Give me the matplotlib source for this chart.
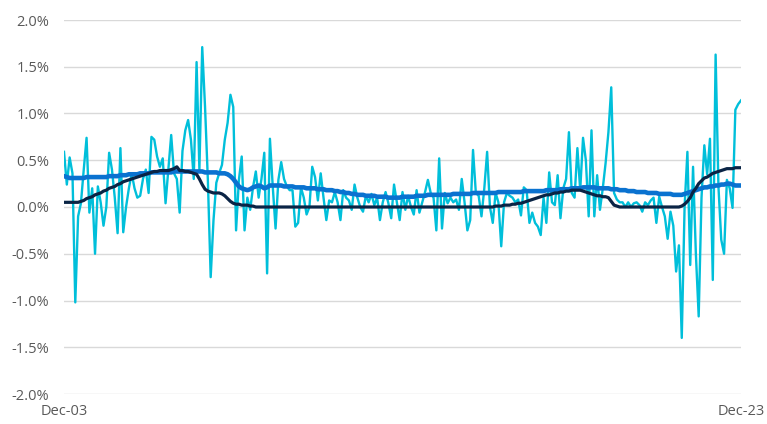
import matplotlib
matplotlib.use("Agg")
import matplotlib.pyplot as plt
import numpy as np

# monthly series, Dec-03 .. Dec-23 (values in %)
monthly = [
    0.59, 0.24, 0.53, 0.36, -1.02, -0.10, 0.04, 0.40, 0.74, -0.06, 0.20, -0.50,
    0.22, 0.05, -0.20, 0.00, 0.58, 0.40, 0.10, -0.28, 0.63, -0.27, 0.00, 0.20,
    0.36, 0.20, 0.10, 0.12, 0.30, 0.40, 0.15, 0.75, 0.72, 0.54, 0.43, 0.52,
    0.04, 0.40, 0.77, 0.36, 0.30, -0.06, 0.60, 0.82, 0.93, 0.72, 0.30, 1.55,
    0.40, 1.71, 1.07, 0.29, -0.75, -0.14, 0.26, 0.36, 0.45, 0.72, 0.90, 1.20,
    1.07, -0.25, 0.29, 0.54, -0.25, 0.10, -0.03, 0.21, 0.38, 0.10, 0.30, 0.58,
    -0.71, 0.73, 0.22, -0.23, 0.29, 0.48, 0.30, 0.22, 0.18, 0.18, -0.21, -0.17,
    0.21, 0.10, -0.08, 0.00, 0.43, 0.32, 0.07, 0.36, 0.10, -0.14, 0.07, 0.05,
    0.16, 0.05, -0.14, 0.18, 0.10, 0.07, -0.03, 0.24, 0.10, 0.00, -0.05, 0.12,
    0.05, 0.14, 0.02, 0.10, -0.14, 0.05, 0.16, 0.04, -0.12, 0.24, 0.05, -0.14,
    0.16, -0.03, 0.12, 0.00, -0.08, 0.18, -0.06, 0.05, 0.16, 0.29, 0.15, 0.10,
    -0.25, 0.52, -0.23, 0.15, 0.04, 0.10, 0.05, 0.08, -0.03, 0.30, 0.05, -0.25,
    -0.14, 0.61, 0.15, 0.12, -0.10, 0.20, 0.59, 0.00, -0.17, 0.15, 0.05, -0.42,
    0.05, 0.15, 0.12, 0.10, 0.05, 0.08, -0.09, 0.21, 0.18, -0.17, -0.06, -0.17,
    -0.21, -0.30, 0.10, -0.17, 0.37, 0.05, 0.02, 0.34, -0.12, 0.20, 0.30, 0.80,
    0.15, 0.10, 0.63, 0.18, 0.74, 0.50, -0.10, 0.82, -0.10, 0.34, -0.03, 0.20,
    0.47, 0.80, 1.28, 0.15, 0.08, 0.05, 0.05, 0.00, 0.05, 0.00, 0.04, 0.05,
    0.02, -0.05, 0.05, 0.02, 0.07, 0.10, -0.17, 0.11, 0.00, -0.10, -0.34, -0.05,
    -0.20, -0.69, -0.41, -1.40, 0.00, 0.59, -0.62, 0.43, -0.50, -1.17, 0.10, 0.66,
    0.35, 0.73, -0.78, 1.63, 0.22, -0.35, -0.50, 0.29, 0.20, -0.01, 1.04, 1.10,
    1.14,
]

smooth = [
    0.05, 0.05, 0.05, 0.05, 0.05, 0.05, 0.06, 0.07, 0.09, 0.10, 0.11, 0.13,
    0.14, 0.15, 0.17, 0.18, 0.20, 0.21, 0.22, 0.24, 0.25, 0.27, 0.28, 0.29,
    0.30, 0.31, 0.32, 0.33, 0.34, 0.35, 0.36, 0.37, 0.38, 0.38, 0.39, 0.39,
    0.39, 0.39, 0.40, 0.41, 0.43, 0.39, 0.39, 0.38, 0.38, 0.37, 0.36, 0.35,
    0.30, 0.24, 0.19, 0.17, 0.16, 0.15, 0.15, 0.15, 0.14, 0.12, 0.09, 0.06,
    0.04, 0.03, 0.03, 0.02, 0.02, 0.02, 0.01, 0.01, 0.00, 0.00, 0.00, 0.00,
    0.00, 0.00, 0.00, 0.00, 0.00, 0.00, 0.00, 0.00, 0.00, 0.00, 0.00, 0.00,
    0.00, 0.00, 0.00, 0.00, 0.00, 0.00, 0.00, 0.00, 0.00, 0.00, 0.00, 0.00,
    0.00, 0.00, 0.00, 0.00, 0.00, 0.00, 0.00, 0.00, 0.00, 0.00, 0.00, 0.00,
    0.00, 0.00, 0.00, 0.00, 0.00, 0.00, 0.00, 0.00, 0.00, 0.00, 0.00, 0.00,
    0.00, 0.00, 0.00, 0.00, 0.00, 0.00, 0.00, 0.00, 0.00, 0.00, 0.00, 0.00,
    0.00, 0.00, 0.00, 0.00, 0.00, 0.00, 0.00, 0.00, 0.00, 0.00, 0.00, 0.00,
    0.00, 0.00, 0.00, 0.00, 0.00, 0.00, 0.00, 0.00, 0.00, 0.01, 0.01, 0.01,
    0.02, 0.02, 0.02, 0.03, 0.03, 0.04, 0.04, 0.05, 0.06, 0.07, 0.08, 0.09,
    0.10, 0.11, 0.12, 0.13, 0.13, 0.14, 0.15, 0.15, 0.16, 0.16, 0.17, 0.17,
    0.18, 0.18, 0.18, 0.18, 0.17, 0.16, 0.15, 0.14, 0.13, 0.12, 0.12, 0.11,
    0.11, 0.10, 0.06, 0.02, 0.01, 0.00, 0.00, 0.00, 0.00, 0.00, 0.00, 0.00,
    0.00, 0.00, 0.00, 0.00, 0.00, 0.00, 0.00, 0.00, 0.00, 0.00, 0.00, 0.00,
    0.00, 0.00, 0.00, 0.01, 0.03, 0.06, 0.10, 0.16, 0.20, 0.25, 0.28, 0.31,
    0.32, 0.34, 0.36, 0.37, 0.38, 0.39, 0.40, 0.41, 0.41, 0.41, 0.42, 0.42,
    0.42,
]

average = [
    0.33, 0.32, 0.31, 0.31, 0.31, 0.31, 0.31, 0.31, 0.32, 0.32, 0.32, 0.32,
    0.32, 0.32, 0.32, 0.32, 0.33, 0.33, 0.33, 0.33, 0.34, 0.34, 0.34, 0.35,
    0.35, 0.35, 0.35, 0.36, 0.36, 0.36, 0.36, 0.37, 0.37, 0.37, 0.37, 0.37,
    0.37, 0.37, 0.37, 0.38, 0.38, 0.38, 0.38, 0.38, 0.38, 0.38, 0.38, 0.38,
    0.38, 0.38, 0.37, 0.37, 0.37, 0.37, 0.37, 0.36, 0.36, 0.36, 0.35, 0.33,
    0.30, 0.26, 0.22, 0.20, 0.19, 0.18, 0.19, 0.21, 0.22, 0.23, 0.22, 0.20,
    0.21, 0.23, 0.23, 0.23, 0.23, 0.23, 0.22, 0.22, 0.22, 0.22, 0.21, 0.21,
    0.21, 0.21, 0.20, 0.20, 0.20, 0.20, 0.19, 0.19, 0.19, 0.18, 0.18, 0.18,
    0.17, 0.17, 0.16, 0.16, 0.15, 0.15, 0.14, 0.14, 0.13, 0.13, 0.13, 0.12,
    0.12, 0.12, 0.12, 0.11, 0.11, 0.11, 0.11, 0.10, 0.10, 0.10, 0.10, 0.10,
    0.11, 0.11, 0.11, 0.11, 0.11, 0.12, 0.12, 0.12, 0.12, 0.13, 0.13, 0.13,
    0.13, 0.13, 0.13, 0.13, 0.13, 0.13, 0.14, 0.14, 0.14, 0.14, 0.14, 0.14,
    0.14, 0.15, 0.15, 0.15, 0.15, 0.15, 0.15, 0.15, 0.15, 0.15, 0.16, 0.16,
    0.16, 0.16, 0.16, 0.16, 0.16, 0.16, 0.16, 0.17, 0.17, 0.17, 0.17, 0.17,
    0.17, 0.17, 0.17, 0.18, 0.18, 0.18, 0.18, 0.18, 0.19, 0.19, 0.19, 0.19,
    0.20, 0.20, 0.20, 0.20, 0.21, 0.21, 0.21, 0.21, 0.21, 0.20, 0.20, 0.20,
    0.20, 0.20, 0.19, 0.19, 0.19, 0.18, 0.18, 0.18, 0.17, 0.17, 0.17, 0.16,
    0.16, 0.16, 0.16, 0.15, 0.15, 0.15, 0.15, 0.14, 0.14, 0.14, 0.14, 0.14,
    0.13, 0.13, 0.13, 0.13, 0.14, 0.15, 0.16, 0.17, 0.18, 0.19, 0.20, 0.21,
    0.21, 0.22, 0.22, 0.23, 0.23, 0.24, 0.24, 0.25, 0.25, 0.24, 0.23, 0.23,
    0.23,
]

x_labels = ["Dec-03", "Dec-23"]
y_ticks = [-2.0, -1.5, -1.0, -0.5, 0.0, 0.5, 1.0, 1.5, 2.0]

plt.rcParams['font.family'] = ['Open Sans', 'DejaVu Sans']

fig = plt.figure(figsize=(7.67, 4.24), dpi=100)
ax = fig.add_axes([64 / 767, 1 - 394 / 424, (741 - 64) / 767, 374 / 424])

t = np.arange(len(monthly))
ax.plot(t, monthly, color='#00BFDA', linewidth=1.7, zorder=2)
ax.plot(t, average, color='#0A72D0', linewidth=3.3, zorder=3)
ax.plot(t, smooth, color='#0A2445', linewidth=2.3, zorder=4)

ax.set_xlim(0, len(monthly) - 1)
ax.set_ylim(-2.0, 2.0)
ax.set_yticks(y_ticks)
ax.set_yticklabels([f"{v:.1f}%" for v in y_ticks])
ax.set_xticks([0, len(monthly) - 1])
ax.set_xticklabels(x_labels)

ax.grid(axis='y', color='#D9D9D9', linewidth=1.0, zorder=0)
ax.set_axisbelow(True)
for s in ax.spines.values():
    s.set_visible(False)
ax.tick_params(axis='both', length=0, labelsize=10.5, labelcolor='#595959')
ax.tick_params(axis='y', pad=10.5)
ax.tick_params(axis='x', pad=7.5)

fig.savefig("out.png", dpi=100)
